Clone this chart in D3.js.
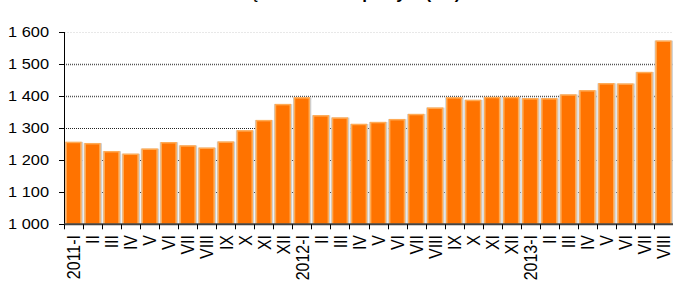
<!DOCTYPE html>
<html lang="pl">
<head>
  <meta charset="UTF-8" />
  <title>Bar chart</title>
  <style>
    html, body { margin: 0; padding: 0; background: #fff; }
    svg { display: block; font-family: "Liberation Sans", Arial, sans-serif; }
    .ylab { font-size: 14px; fill: #000; text-anchor: end; }
    .xlab { font-size: 16px; fill: #000; text-anchor: end; }
  </style>
</head>
<body>
  <svg width="673" height="282"></svg>
  <script src="https://d3js.org/d3.v7.min.js"></script>
  <script>
    const title = "Przeciętna cena skupu żyta (zł/t)";
    const categories = [
      "2011-I","II","III","IV","V","VI","VII","VIII","IX","X","XI","XII",
      "2012-I","II","III","IV","V","VI","VII","VIII","IX","X","XI","XII",
      "2013-I","II","III","IV","V","VI","VII","VIII"
    ];
    const values = [
      1257, 1253, 1228, 1220, 1236, 1256, 1246, 1239, 1258, 1293, 1325, 1375,
      1396, 1340, 1333, 1313, 1319, 1328, 1344, 1364, 1396, 1388, 1397, 1397,
      1393, 1393, 1405, 1418, 1440, 1439, 1475, 1573
    ];
    const yTicks = [1000, 1100, 1200, 1300, 1400, 1500, 1600];

    const svg = d3.select("svg");
    const mLeft = 64, mRight = 673, mTop = 32, mBottom = 224.3;
    const sx = 1.17; // the original picture is a little stretched sideways

    const x = d3.scaleBand().domain(d3.range(categories.length))
      .range([mLeft, mRight]).paddingInner(0.17).paddingOuter(0.085);
    const y = d3.scaleLinear().domain([1000, 1600]).range([mBottom, mTop]);

    // title (mostly outside the visible area, as in the source)
    svg.append("text")
      .attr("x", 330).attr("y", -1)
      .attr("text-anchor", "middle")
      .style("font-size", "17px").style("font-weight", "bold")
      .text(title);

    // grid
    svg.append("g").selectAll("line").data(yTicks.filter(d => d > 1000)).join("line")
      .attr("x1", mLeft).attr("x2", mRight)
      .attr("y1", d => Math.round(y(d)) + 0.5).attr("y2", d => Math.round(y(d)) + 0.5)
      .attr("stroke", d => d === 1600 ? "#e8e8e8" : (d >= 1400 ? "#555" : "#222"))
      .attr("stroke-width", d => d >= 1400 && d < 1600 ? 1.5 : 1)
      .attr("stroke-dasharray", d => d === 1600 ? "2,1" : "1,1");

    // bars: shadow + body
    const bars = svg.append("g");
    bars.selectAll("rect.shadow").data(values).join("rect")
      .attr("class", "shadow")
      .attr("x", (d, i) => x(i) - 1)
      .attr("y", d => y(d))
      .attr("width", x.bandwidth() + 2.5)
      .attr("height", d => mBottom - y(d))
      .attr("fill", "#cfcfcf");
    bars.selectAll("rect.bar").data(values).join("rect")
      .attr("class", "bar")
      .attr("x", (d, i) => x(i) + 0.5)
      .attr("y", d => y(d) + 0.5)
      .attr("width", x.bandwidth() - 1)
      .attr("height", d => mBottom - y(d) - 0.5)
      .attr("fill", "#ff7300")
      .attr("stroke", "#ffab55")
      .attr("stroke-width", 1.5);

    // y axis
    svg.append("line")
      .attr("x1", mLeft + 0.5).attr("x2", mLeft + 0.5)
      .attr("y1", mTop).attr("y2", mBottom)
      .attr("stroke", "#000").attr("stroke-width", 1);
    svg.append("g").selectAll("line").data(yTicks).join("line")
      .attr("x1", mLeft - 5).attr("x2", mLeft)
      .attr("y1", d => Math.round(y(d)) + 0.5).attr("y2", d => Math.round(y(d)) + 0.5)
      .attr("stroke", "#000");
    svg.append("g").selectAll("text").data(yTicks).join("text")
      .attr("class", "ylab")
      .attr("transform", d => `translate(49,${y(d) + 5}) scale(${sx},1)`)
      .text(d => d3.format(",")(d).replace(",", " "));

    // x axis
    svg.append("line")
      .attr("x1", mLeft).attr("x2", mRight)
      .attr("y1", mBottom).attr("y2", mBottom)
      .attr("stroke", "#444").attr("stroke-width", 2);
    const n = categories.length;
    svg.append("g").selectAll("line").data(d3.range(n + 1)).join("line")
      .attr("x1", i => Math.round(mLeft + i * (mRight - mLeft) / n) + 0.5)
      .attr("x2", i => Math.round(mLeft + i * (mRight - mLeft) / n) + 0.5)
      .attr("y1", mBottom).attr("y2", mBottom + 5)
      .attr("stroke", "#000");
    svg.append("g").selectAll("text").data(categories).join("text")
      .attr("class", "xlab")
      .attr("transform", (d, i) => `translate(${x(i) + x.bandwidth() / 2},235) scale(${sx},1) rotate(-90)`)
      .attr("dy", "0.36em")
      .text(d => d);
  </script>
</body>
</html>
